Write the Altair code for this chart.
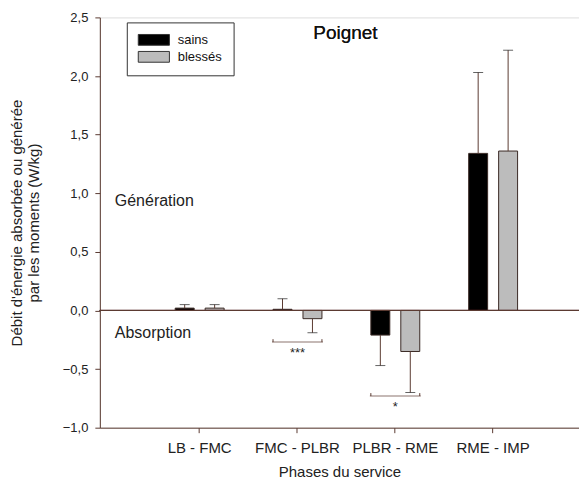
import altair as alt
import pandas as pd

# ---- data ----
phases = ["LB - FMC", "FMC - PLBR", "PLBR - RME", "RME - IMP"]
groups = ["sains", "blessés"]
sains_mean = [0.02, 0.01, -0.21, 1.34]
sains_sd = [0.03, 0.09, 0.26, 0.69]
blesses_mean = [0.02, -0.07, -0.35, 1.36]
blesses_sd = [0.03, 0.12, 0.35, 0.86]

sig_phases = ["FMC - PLBR", "PLBR - RME"]
sig_y = [-0.27, -0.73]
sig_labels = ["***", "*"]

y_ticks = [-1.0, -0.5, 0.0, 0.5, 1.0, 1.5, 2.0, 2.5]

annot_text = ["Génération", "Absorption"]
annot_y = [0.93, -0.19]

# ---- tables ----
rows = []
for g, means, sds in [("sains", sains_mean, sains_sd), ("blessés", blesses_mean, blesses_sd)]:
    for p, m, s in zip(phases, means, sds):
        sign = 1 if m >= 0 else -1
        rows.append({"phase": p, "group": g, "mean": m, "end": m + sign * s})
df = pd.DataFrame(rows)
sig = pd.DataFrame({"phase": sig_phases, "y": sig_y, "label": sig_labels})
sig["ytop"] = sig["y"] + 0.025
sig["ytext"] = sig["y"] - 0.09
annot = pd.DataFrame({"text": annot_text, "y": annot_y})

LINE = "#5b3b32"
FONT = "Liberation Sans"

xscale = alt.Scale(domain=phases, paddingInner=0.5, paddingOuter=0.699, align=0.551)
yscale = alt.Scale(domain=[-1.0, 2.5], nice=False, zero=False)
off_scale = alt.Scale(domain=groups, paddingInner=0.367, paddingOuter=0)

x_enc = alt.X("phase:N", scale=xscale, sort=phases,
              axis=alt.Axis(title="Phases du service", labelAngle=0, domainColor=LINE,
                            tickColor=LINE, tickSize=5, labelFontSize=15, labelColor="#222",
                            titleFontSize=15, titleFontWeight="normal", titleColor="#222",
                            labelPadding=8, titlePadding=9, labelFont=FONT, titleFont=FONT))
y_enc = alt.Y("mean:Q", scale=yscale,
              axis=alt.Axis(title=["Débit d'énergie absorbée ou générée", "par les moments (W/kg)"],
                            values=y_ticks, labelExpr="replace(format(datum.value, '.1f'), '.', ',')",
                            grid=False, domainColor=LINE, tickColor=LINE, tickSize=5,
                            labelFontSize=13, labelColor="#222", titleFontSize=15,
                            titleFontWeight="normal", titleColor="#222", labelPadding=7,
                            titlePadding=21, labelFont=FONT, titleFont=FONT))
xo = alt.XOffset("group:N", scale=off_scale, sort=groups)

base = alt.Chart(df)

bars = base.mark_bar(stroke="#3a2a25", strokeWidth=1).encode(
    x=x_enc, xOffset=xo, y=y_enc, y2=alt.datum(0),
    color=alt.Color("group:N", sort=groups,
                    scale=alt.Scale(domain=groups, range=["#000000", "#bcbcbc"]),
                    legend=alt.Legend(title=None, orient="none", legendX=27, legendY=5,
                                      direction="vertical", strokeColor="#333",
                                      fillColor="white", padding=11, rowPadding=2,
                                      labelFontSize=13, labelFont=FONT, labelColor="#111",
                                      labelOffset=27,
                                      symbolType="M-1,-0.9H4.2V0.9H-1Z", symbolSize=144,
                                      symbolStrokeColor="#333", symbolStrokeWidth=1)),
)

err = base.mark_rule(color=LINE, strokeWidth=1).encode(
    x=alt.X("phase:N", scale=xscale, sort=phases), xOffset=xo,
    y=alt.Y("mean:Q", scale=yscale), y2="end:Q")

caps = base.mark_tick(color="#222", thickness=1, size=10, orient="horizontal").encode(
    x=alt.X("phase:N", scale=xscale, sort=phases), xOffset=xo,
    y=alt.Y("end:Q", scale=yscale))

zero = alt.Chart(df).mark_rule(color=LINE, strokeWidth=1).encode(y=alt.datum(0))

sc = alt.Chart(sig)
br_h = sc.mark_tick(color=LINE, thickness=1, size=51, orient="horizontal").encode(
    x=alt.X("phase:N", scale=xscale, sort=phases), y=alt.Y("y:Q", scale=yscale))
br_l = sc.mark_rule(color=LINE, strokeWidth=1).encode(
    x=alt.X("phase:N", scale=xscale, sort=phases, bandPosition=0),
    y=alt.Y("y:Q", scale=yscale), y2="ytop:Q")
br_r = sc.mark_rule(color=LINE, strokeWidth=1).encode(
    x=alt.X("phase:N", scale=xscale, sort=phases, bandPosition=1),
    y=alt.Y("y:Q", scale=yscale), y2="ytop:Q")
stars = sc.mark_text(font=FONT, fontSize=13, color="#222").encode(
    x=alt.X("phase:N", scale=xscale, sort=phases), y=alt.Y("ytext:Q", scale=yscale),
    text="label:N")

ann = alt.Chart(annot).mark_text(font=FONT, fontSize=16, color="#222", align="left").encode(
    x=alt.value(15), y=alt.Y("y:Q", scale=yscale), text="text:N")

title = alt.Chart(annot).mark_text(font=FONT, fontSize=19, color="#111").encode(
    x=alt.value(246), y=alt.value(16), text=alt.value("Poignet"))

chart = alt.layer(bars, err, caps, zero, br_h, br_l, br_r, stars, ann, title).properties(
    width=480, height=411,
    padding={"left": 92, "top": 9, "right": 0, "bottom": 58},
    autosize=alt.AutoSizeParams(type="none"),
).configure_view(stroke=None).configure(background="white")

chart.save("out.html", embed_options={"renderer": "svg", "actions": False})
